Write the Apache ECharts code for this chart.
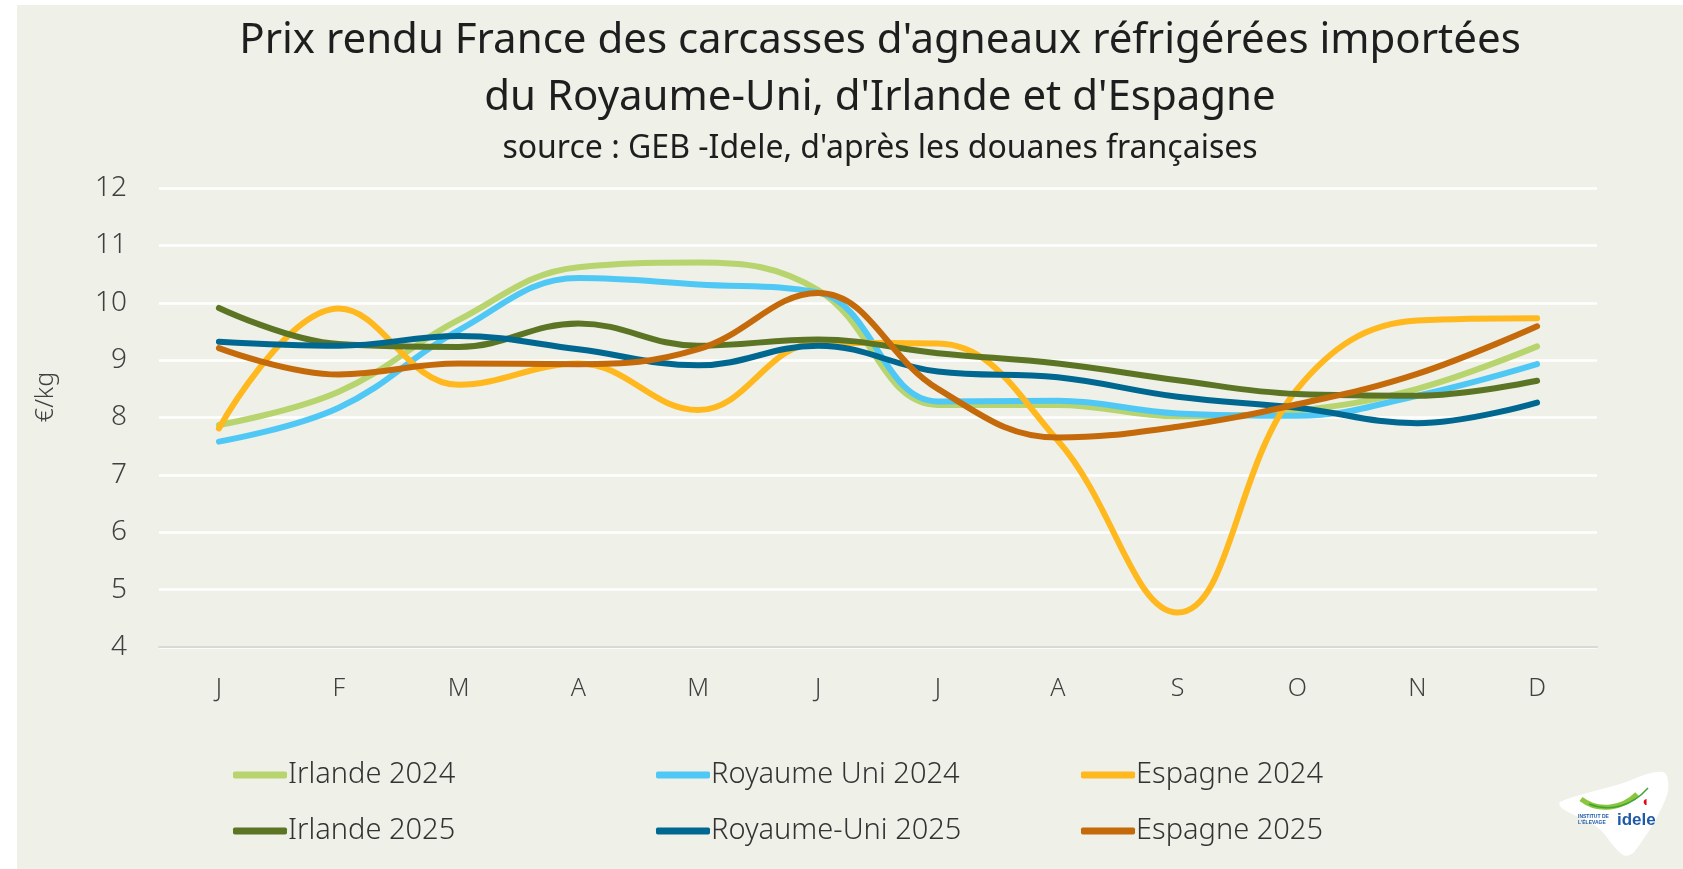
<!DOCTYPE html>
<html>
<head>
<meta charset="utf-8">
<script src="https://cdn.jsdelivr.net/npm/echarts@6/dist/echarts.min.js"></script>
<style>
  html, body { margin: 0; padding: 0; background: #ffffff; }
  #main { position: absolute; left: 17px; top: 5px; width: 1666px; height: 864px; }
</style>
</head>
<body>
<div id="main"></div>
<script>
// months (French initials)
const months = ['J', 'F', 'M', 'A', 'M', 'J', 'J', 'A', 'S', 'O', 'N', 'D'];

// prix €/kg
const irlande2024 = [7.87, 8.45, 9.70, 10.62, 10.70, 10.22, 8.22, 8.22, 8.02, 8.12, 8.50, 9.24];
const royaumeUni2024 = [7.58, 8.17, 9.52, 10.43, 10.32, 10.18, 8.28, 8.29, 8.07, 8.03, 8.38, 8.93];
const espagne2024 = [7.81, 9.90, 8.57, 8.94, 8.13, 9.30, 9.29, 7.60, 4.60, 8.50, 9.69, 9.73];
const irlande2025 = [9.91, 9.28, 9.23, 9.64, 9.25, 9.36, 9.12, 8.94, 8.65, 8.41, 8.38, 8.64];
const royaumeUni2025 = [9.32, 9.25, 9.42, 9.19, 8.91, 9.25, 8.80, 8.70, 8.36, 8.17, 7.90, 8.26];
const espagne2025 = [9.21, 8.75, 8.94, 8.93, 9.19, 10.17, 8.50, 7.65, 7.84, 8.23, 8.76, 9.59];

const seriesNames = ['Irlande 2024', 'Royaume Uni 2024', 'Espagne 2024', 'Irlande 2025', 'Royaume-Uni 2025', 'Espagne 2025'];
const seriesData = [irlande2024, royaumeUni2024, espagne2024, irlande2025, royaumeUni2025, espagne2025];
const colors = ['#B7D46E', '#50C8F5', '#FFB81E', '#5C7524', '#006890', '#C46A0A'];

const chart = echarts.init(document.getElementById('main'));

const labelFont = '"Noto Sans", "Open Sans", sans-serif';

function legendCol(left, names) {
  return {
    orient: 'vertical',
    left: left,
    top: 750,
    itemWidth: 54,
    itemHeight: 7,
    itemGap: 26,
    icon: 'roundRect',
    selectedMode: false,
    data: names,
    textStyle: { fontFamily: labelFont, fontSize: 29, fontWeight: 300, color: '#333', lineHeight: 30, padding: [0, 0, 0, -4] }
  };
}

const option = {
  backgroundColor: '#EFF0E8',
  animation: false,
  color: colors,
  grid: { left: 142, right: 86, top: 183, bottom: 222, containLabel: false },
  legend: [
    legendCol(211, [seriesNames[0], seriesNames[3]]),
    legendCol(634, [seriesNames[1], seriesNames[4]]),
    legendCol(1059, [seriesNames[2], seriesNames[5]])
  ],
  xAxis: {
    type: 'category',
    data: months,
    boundaryGap: true,
    axisTick: { show: false },
    axisLine: { lineStyle: { color: '#D9D9D9', width: 2 } },
    axisLabel: { fontFamily: labelFont, fontSize: 25, fontWeight: 300, color: '#404040', margin: 29 }
  },
  yAxis: {
    type: 'value',
    min: 4,
    max: 12,
    interval: 1,
    axisLine: { show: false },
    axisTick: { show: false },
    splitLine: { lineStyle: { color: '#FFFFFF', width: 2.5 } },
    axisLabel: { fontFamily: labelFont, fontSize: 28, fontWeight: 300, color: '#404040', margin: 32 }
  },
  series: seriesNames.map((name, i) => ({
    name: name,
    type: 'line',
    data: seriesData[i],
    smooth: 0.4,
    symbol: 'none',
    lineStyle: { width: 6, color: colors[i], cap: 'round', join: 'round' }
  })),
  graphic: [
    {
      type: 'text', x: 863, y: 36,
      style: { text: "Prix rendu France des carcasses d'agneaux réfrigérées importées", fill: '#1E1E1E',
        font: '42px "Noto Sans", sans-serif', align: 'center', verticalAlign: 'middle' }
    },
    {
      type: 'text', x: 863, y: 93,
      style: { text: "du Royaume-Uni, d'Irlande et d'Espagne", fill: '#1E1E1E',
        font: '42px "Noto Sans", sans-serif', align: 'center', verticalAlign: 'middle' }
    },
    {
      type: 'text', x: 863, y: 144,
      style: { text: "source : GEB -Idele, d'après les douanes françaises", fill: '#1E1E1E',
        font: '32px "Noto Sans", sans-serif', align: 'center', verticalAlign: 'middle' }
    },
    {
      type: 'text', x: 29, y: 392, rotation: Math.PI / 2,
      style: { text: '€/kg', fill: '#404040', font: '300 25px "Noto Sans", sans-serif', align: 'center', verticalAlign: 'middle' }
    },
    // idele logo, simplified
    {
      type: 'polygon',
      shape: { points: [[1543, 797], [1600, 780], [1646, 767], [1650, 790], [1618, 846], [1606, 850], [1580, 822], [1546, 804]], smooth: 0.35 },
      style: { fill: '#FFFFFF' }
    },
    {
      type: 'bezierCurve',
      shape: { x1: 1564, y1: 794, x2: 1620, y2: 789, cpx1: 1582, cpy1: 808, cpx2: 1606, cpy2: 803 },
      style: { stroke: '#8CC63F', lineWidth: 5, fill: null }
    },
    {
      type: 'bezierCurve',
      shape: { x1: 1572, y1: 799, x2: 1631, y2: 783, cpx1: 1594, cpy1: 808, cpx2: 1616, cpy2: 800 },
      style: { stroke: '#3FA535', lineWidth: 1.5, fill: null }
    },
    {
      type: 'text', x: 1628, y: 797,
      style: { text: '\u25D6', fill: '#E30613', font: 'bold 14px sans-serif', align: 'center', verticalAlign: 'middle' }
    },
    {
      type: 'text', x: 1561, y: 815,
      style: { text: "INSTITUT DE\nL'ÉLEVAGE", fill: '#1E5AA8', font: 'bold 5px sans-serif', lineHeight: 6, align: 'left', verticalAlign: 'middle' }
    },
    {
      type: 'text', x: 1600, y: 815,
      style: { text: 'idele', fill: '#1E5AA8', font: 'bold 17px sans-serif', align: 'left', verticalAlign: 'middle' }
    }
  ]
};

chart.setOption(option);
</script>
</body>
</html>
